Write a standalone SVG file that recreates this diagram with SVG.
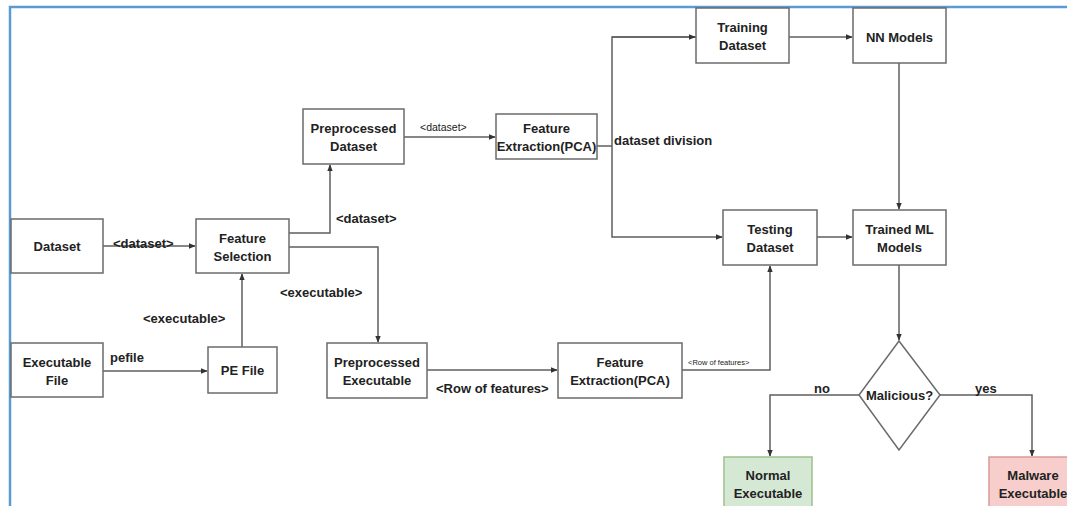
<svg xmlns="http://www.w3.org/2000/svg" width="1067" height="506" viewBox="0 0 1067 506">
<style>
.box{fill:#fff;stroke:#6b6b6b;stroke-width:1.5}
.t{font-family:"Liberation Sans",Arial,sans-serif;font-weight:bold;font-size:13px;fill:#222;text-anchor:middle}
.lbl{font-family:"Liberation Sans",Arial,sans-serif;font-weight:bold;font-size:13px;fill:#222}
.c{fill:none;stroke:#5f5f5f;stroke-width:1.5}
</style>
<defs>
<marker id="ah" viewBox="0 0 10 10" refX="9" refY="5" markerWidth="7" markerHeight="7" markerUnits="userSpaceOnUse" orient="auto">
<path d="M0,1 L10,5 L0,9 z" fill="#333"/>
</marker>
</defs>
<rect width="1067" height="506" fill="#fff"/>
<path d="M10,506 L10,7 L1067,7" fill="none" stroke="#5b9bd5" stroke-width="2.5"/>

<g id="connectors">
<path class="c" d="M103,246 L195,246" marker-end="url(#ah)"/>
<path class="c" d="M103,371 L207,371" marker-end="url(#ah)"/>
<path class="c" d="M242,347 L242,274" marker-end="url(#ah)"/>
<path class="c" d="M289,233 L330,233 L330,165" marker-end="url(#ah)"/>
<path class="c" d="M289,247 L378,247 L378,342" marker-end="url(#ah)"/>
<path class="c" d="M404,137 L495,137" marker-end="url(#ah)"/>
<path class="c" d="M597,146 L612,146"/>
<path class="c" d="M696,37 L612,37 L612,237 L722,237" marker-end="url(#ah)"/>
<path class="c" d="M612,37 L695,37" marker-end="url(#ah)"/>
<path class="c" d="M789,37 L852,37" marker-end="url(#ah)"/>
<path class="c" d="M899,63 L899,209" marker-end="url(#ah)"/>
<path class="c" d="M817,237 L852,237" marker-end="url(#ah)"/>
<path class="c" d="M899,265 L899,340" marker-end="url(#ah)"/>
<path class="c" d="M427,370 L557,370" marker-end="url(#ah)"/>
<path class="c" d="M682,370 L770,370 L770,266" marker-end="url(#ah)"/>
<path class="c" d="M859,395 L770,395 L770,456" marker-end="url(#ah)"/>
<path class="c" d="M940,395 L1032,395 L1032,456" marker-end="url(#ah)"/>
<text class="lbl" x="113" y="248">&lt;dataset&gt;</text>
<text class="lbl" x="110" y="362">pefile</text>
<text class="lbl" x="143" y="323">&lt;executable&gt;</text>
<text class="lbl" x="336" y="223">&lt;dataset&gt;</text>
<text class="lbl" x="280" y="297">&lt;executable&gt;</text>
<text class="lbl" x="420" y="131" style="font-size:10.5px;font-weight:normal">&lt;dataset&gt;</text>
<text class="lbl" x="614" y="145">dataset division</text>
<text class="lbl" x="436" y="393">&lt;Row of features&gt;</text>
<text class="lbl" x="688" y="365" style="font-size:7.5px;font-weight:normal">&lt;Row of features&gt;</text>
<text class="lbl" x="814" y="393">no</text>
<text class="lbl" x="975" y="393">yes</text>
</g>

<g id="dataset"><rect class="box" x="11" y="219" width="92" height="54"/><text class="t" x="57" y="251">Dataset</text></g>
<g id="feature-selection"><rect class="box" x="196" y="219" width="93" height="54"/><text class="t" x="242.5" y="243">Feature</text><text class="t" x="242.5" y="261">Selection</text></g>
<g id="executable-file"><rect class="box" x="11" y="343" width="92" height="54"/><text class="t" x="57" y="367">Executable</text><text class="t" x="57" y="385">File</text></g>
<g id="pe-file"><rect class="box" x="208" y="347" width="69" height="46"/><text class="t" x="242.5" y="375">PE File</text></g>
<g id="preprocessed-executable"><rect class="box" x="327" y="343" width="100" height="55"/><text class="t" x="377" y="367">Preprocessed</text><text class="t" x="377" y="385">Executable</text></g>
<g id="preprocessed-dataset"><rect class="box" x="303" y="109" width="101" height="55"/><text class="t" x="353.5" y="133">Preprocessed</text><text class="t" x="353.5" y="151">Dataset</text></g>
<g id="feature-extraction-top"><rect class="box" x="496" y="114" width="101" height="45"/><text class="t" x="546.5" y="133">Feature</text><text class="t" x="546.5" y="151">Extraction(PCA)</text></g>
<g id="training-dataset"><rect class="box" x="696" y="8" width="93" height="55"/><text class="t" x="742.5" y="32">Training</text><text class="t" x="742.5" y="50">Dataset</text></g>
<g id="nn-models"><rect class="box" x="853" y="8" width="93" height="55"/><text class="t" x="899.5" y="42">NN Models</text></g>
<g id="testing-dataset"><rect class="box" x="723" y="210" width="94" height="55"/><text class="t" x="770" y="234">Testing</text><text class="t" x="770" y="252">Dataset</text></g>
<g id="trained-ml-models"><rect class="box" x="853" y="210" width="93" height="55"/><text class="t" x="899.5" y="234">Trained ML</text><text class="t" x="899.5" y="252">Models</text></g>
<g id="feature-extraction-bottom"><rect class="box" x="558" y="343" width="124" height="55"/><text class="t" x="620" y="367">Feature</text><text class="t" x="620" y="385">Extraction(PCA)</text></g>
<g id="malicious"><polygon class="box" points="899,341 940,395 899,450 859,395"/><text class="t" x="899.5" y="400">Malicious?</text></g>
<g id="normal-executable"><rect x="724" y="457" width="88" height="60" fill="#d5e8d4" stroke="#9cc18a" stroke-width="1.5"/><text class="t" x="768" y="480">Normal</text><text class="t" x="768" y="498">Executable</text></g>
<g id="malware-executable"><rect x="989" y="457" width="88" height="60" fill="#f8cecc" stroke="#d99a98" stroke-width="1.5"/><text class="t" x="1033" y="480">Malware</text><text class="t" x="1033" y="498">Executable</text></g>
</svg>
